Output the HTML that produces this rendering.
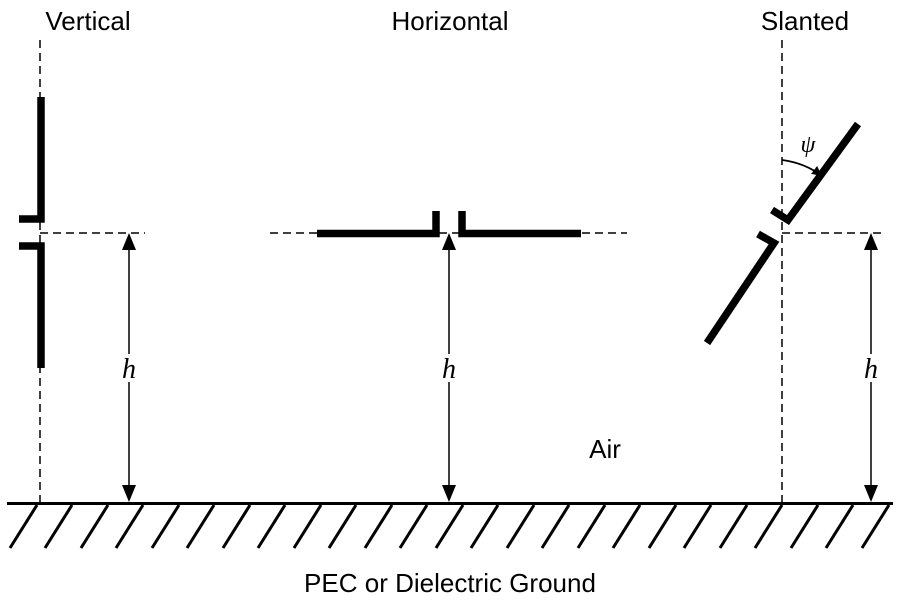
<!DOCTYPE html>
<html><head><style>body{margin:0;background:#fff}svg{display:block}</style></head>
<body>
<svg width="900" height="601" viewBox="0 0 900 601" xmlns="http://www.w3.org/2000/svg">
<defs>
<marker id="a" viewBox="0 0 10 10" refX="10" refY="5" markerWidth="10" markerHeight="10" markerUnits="userSpaceOnUse" orient="auto-start-reverse"><path d="M0,0 L10,5 L0,10z" fill="#000"/></marker>
</defs>
<g font-family="Liberation Sans, sans-serif" font-size="26" text-anchor="middle" fill="#000">
<text x="88" y="30">Vertical</text>
<text x="450" y="30">Horizontal</text>
<text x="805" y="30">Slanted</text>
<text x="605" y="458">Air</text>
<text x="450" y="592">PEC or Dielectric Ground</text>
</g>
<g stroke="#000" stroke-width="1.5" stroke-dasharray="8,5" fill="none">
<line x1="40" y1="40" x2="40" y2="503"/>
<line x1="40" y1="233" x2="145" y2="233"/>
<line x1="270" y1="233" x2="627" y2="233"/>
<line x1="782" y1="40" x2="782" y2="503"/>
<line x1="782" y1="233" x2="885" y2="233"/>
</g>
<g stroke="#000" stroke-width="1.5">
<line x1="129" y1="245" x2="129" y2="492"/>
<line x1="449" y1="245" x2="449" y2="492"/>
<line x1="871" y1="245" x2="871" y2="492"/>
</g>
<g fill="#000">
<path d="M129,233 L122,250 L136,250z"/><path d="M129,502 L122,485 L136,485z"/>
<path d="M449,233 L442,250 L456,250z"/><path d="M449,502 L442,485 L456,485z"/>
<path d="M871,233 L864,250 L878,250z"/><path d="M871,502 L864,485 L878,485z"/>
</g>
<g font-family="Liberation Serif, serif" font-style="italic" font-size="28" text-anchor="middle">
<text x="129" y="378" fill="#000" stroke="#fff" stroke-width="8" paint-order="stroke">h</text>
<text x="449" y="378" fill="#000" stroke="#fff" stroke-width="8" paint-order="stroke">h</text>
<text x="871" y="378" fill="#000" stroke="#fff" stroke-width="8" paint-order="stroke">h</text>
<text x="808" y="152" font-size="24">ψ</text>
</g>
<path d="M782,160 Q805,163 822,176" stroke="#000" stroke-width="1.8" fill="none" marker-end="url(#a)"/>
<g stroke="#000" stroke-width="7.5" fill="none">
<polyline points="41,97 41,219 19,219"/>
<polyline points="19,246 41,246 41,368"/>
<polyline points="317,233.5 436,233.5 436,211"/>
<polyline points="462,211 462,233.5 581,233.5"/>
<polyline points="858,124 788,220 772,210"/>
<polyline points="758,234 774,243 707,343"/>
</g>
<line x1="7" y1="503.5" x2="893" y2="503.5" stroke="#000" stroke-width="3"/>
<g stroke="#000" stroke-width="3">
<line x1="37" y1="505" x2="10" y2="548"/><line x1="72" y1="505" x2="45" y2="548"/><line x1="108" y1="505" x2="81" y2="548"/><line x1="143" y1="505" x2="116" y2="548"/><line x1="179" y1="505" x2="152" y2="548"/><line x1="214" y1="505" x2="187" y2="548"/><line x1="250" y1="505" x2="223" y2="548"/><line x1="285" y1="505" x2="258" y2="548"/><line x1="321" y1="505" x2="294" y2="548"/><line x1="356" y1="505" x2="329" y2="548"/><line x1="392" y1="505" x2="365" y2="548"/><line x1="427" y1="505" x2="400" y2="548"/><line x1="463" y1="505" x2="436" y2="548"/><line x1="498" y1="505" x2="471" y2="548"/><line x1="534" y1="505" x2="507" y2="548"/><line x1="569" y1="505" x2="542" y2="548"/><line x1="605" y1="505" x2="578" y2="548"/><line x1="640" y1="505" x2="613" y2="548"/><line x1="676" y1="505" x2="649" y2="548"/><line x1="711" y1="505" x2="684" y2="548"/><line x1="747" y1="505" x2="720" y2="548"/><line x1="782" y1="505" x2="755" y2="548"/><line x1="818" y1="505" x2="791" y2="548"/><line x1="853" y1="505" x2="826" y2="548"/><line x1="889" y1="505" x2="862" y2="548"/>
</g>
</svg>
</body></html>
